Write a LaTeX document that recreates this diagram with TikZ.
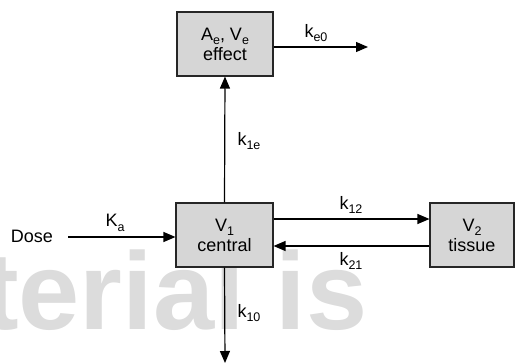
\documentclass[tikz,border=0pt]{standalone}
\usepackage{fontspec}
\setmainfont{Liberation Sans}
\usetikzlibrary{arrows.meta}
\definecolor{boxgray}{HTML}{D6D6D6}
\definecolor{markgray}{HTML}{DCDCDC}
\newcommand{\lowidx}[1]{\raisebox{-0.45ex}{\fontsize{12.5}{12.5}\selectfont #1}}
\tikzset{
  every picture/.style={line join=miter, >={Triangle[length=12pt,width=10pt]}},
  comp/.style={draw=black!85, fill=boxgray, line width=1.1pt, minimum width=96pt, minimum height=64pt, align=center, inner sep=0pt, font=\fontsize{18}{20}\selectfont},
  flow/.style={line width=1.2pt, ->},
  rate/.style={inner sep=0pt, font=\fontsize{18}{20}\selectfont},
}

\begin{document}
\begin{tikzpicture}[x=1pt,y=-1pt]
\useasboundingbox (0,0) rectangle (515,364);
\clip (0,0) rectangle (515,364);
% watermark behind everything
\node[anchor=base west,inner sep=0pt,text=markgray,font=\fontsize{110}{110}\selectfont\bfseries] (mark) at (-18,329) {terial is};
% compartments
\node[comp] (effect) at (225,44) {A\lowidx{e}, V\lowidx{e}\\effect};
\node[comp,minimum width=97pt] (central) at (224.5,235) {V\lowidx{1}\\central};
\node[comp,minimum width=84pt] (tissue) at (472,235) {V\lowidx{2}\\tissue};
\node[rate] (dose) at (32,236) {Dose};
\coordinate (out) at (368,47);
\coordinate (elim) at (225,363);
% flows
\draw[flow] ([xshift=15pt,yshift=-1pt]dose.east) -- ([yshift=-2pt]central.west);
\draw[flow] (central.north) -- (effect.south);
\draw[flow] (effect.east |- out) -- (out);
\draw[flow] ([yshift=16pt]central.east) -- ([yshift=16pt]tissue.west);
\draw[flow] ([yshift=-11pt]tissue.west) -- ([yshift=-11pt]central.east);
\draw[flow] (central.south) -- (elim);
% rate constants
\node[rate] (ka) at (115,223) {K\lowidx{a}};
\node[rate] (ke0) at (316,33) {k\lowidx{e0}};
\node[rate] (k1e) at (249,141) {k\lowidx{1e}};
\node[rate] (k12) at (351,205) {k\lowidx{12}};
\node[rate] (k21) at (351,261) {k\lowidx{21}};
\node[rate] (k10) at (249,313) {k\lowidx{10}};
\end{tikzpicture}
\end{document}
